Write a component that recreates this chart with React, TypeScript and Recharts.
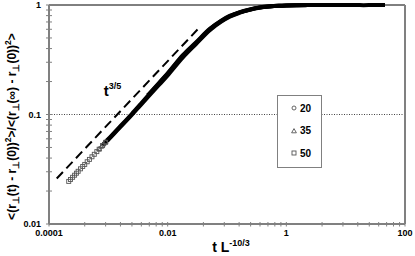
import {
  ComposedChart,
  Legend,
  Line,
  ReferenceDot,
  ReferenceLine,
  Scatter,
  XAxis,
  YAxis,
} from "recharts";

// axis ticks (log-log). minor x ticks sit at k^2 within each 100x decade, as in the original sheet
const xMajor = [1e-4, 1e-2, 1, 100];
const xMajorLabels = ["0.0001", "0.01", "1", "100"];
const xMinor = [
  4e-4, 9e-4, 1.6e-3, 2.5e-3, 3.6e-3, 4.9e-3, 6.4e-3, 8.1e-3,
  0.04, 0.09, 0.16, 0.25, 0.36, 0.49, 0.64, 0.81,
  4, 9, 16, 25, 36, 49, 64, 81,
];
const yMajor = [0.01, 0.1, 1];
const yMajorLabels = ["0.01", "0.1", "1"];
const yMinor = [
  0.02, 0.03, 0.04, 0.05, 0.06, 0.07, 0.08, 0.09,
  0.2, 0.3, 0.4, 0.5, 0.6, 0.7, 0.8, 0.9,
];

const seriesNames = ["20", "35", "50"];

// L = 20
const l20X = [4.6e-3, 5e-3, 7e-3, 0.01, 0.0182, 0.03, 0.0513, 0.08, 0.111, 0.16, 0.242, 0.35, 0.525, 0.75, 1, 1.5, 2.2, 3, 5, 7, 10, 15, 20, 30, 46];
const l20Y = [0.15, 0.157, 0.192, 0.238, 0.35, 0.455, 0.605, 0.72, 0.795, 0.857, 0.91, 0.948, 0.972, 0.985, 0.991, 0.996, 0.998, 1.0, 0.999, 1.0, 0.998, 1.0, 0.997, 1.0, 0.999];

// L = 35
const l35X = [7e-4, 7.6e-4, 8.3e-4, 9e-4, 1e-3, 1.5e-3, 2.46e-3, 3.5e-3, 5e-3, 7e-3, 0.01, 0.0182, 0.03, 0.0513, 0.08, 0.111, 0.16, 0.242, 0.35, 0.525, 0.75, 1, 1.5, 2.2, 3, 5, 7];
const l35Y = [0.0487, 0.051, 0.0538, 0.0565, 0.0598, 0.0755, 0.1005, 0.1245, 0.155, 0.19, 0.235, 0.345, 0.448, 0.6, 0.714, 0.79, 0.853, 0.908, 0.946, 0.971, 0.984, 0.99, 0.995, 0.998, 0.999, 1.0, 0.998];

// L = 50
const l50X = [2.15e-4, 2.3e-4, 2.5e-4, 2.7e-4, 2.9e-4, 3.1e-4, 3.4e-4, 3.7e-4, 4e-4, 4.4e-4, 4.8e-4, 5.3e-4, 5.8e-4, 6.4e-4, 7e-4, 8e-4, 9e-4, 1e-3, 1.5e-3, 2.46e-3, 3.5e-3, 5e-3, 7e-3, 0.01, 0.0182, 0.03, 0.0513, 0.08, 0.111, 0.16, 0.242, 0.35, 0.525, 0.75, 1, 1.5, 2.2];
const l50Y = [0.0245, 0.0255, 0.0267, 0.0279, 0.0291, 0.0303, 0.0319, 0.0335, 0.035, 0.037, 0.0389, 0.0411, 0.0433, 0.0458, 0.0482, 0.0521, 0.0557, 0.0588, 0.0742, 0.0985, 0.122, 0.151, 0.184, 0.228, 0.334, 0.44, 0.588, 0.704, 0.782, 0.846, 0.903, 0.943, 0.968, 0.982, 0.989, 0.994, 0.997];

// t^(3/5) guide
const guideX = [1.35e-4, 0.034];
const guideY = [0.026, 0.62];
const guideLabelAt = { x: 8.4e-4, y: 0.148 };

const font = "'Liberation Sans', Arial, sans-serif";
const axisGray = "#808080";

type Pt = { x: number; y: number };
const zip = (xs: number[], ys: number[]): Pt[] => xs.map((x, i) => ({ x, y: ys[i] }));

const l20 = zip(l20X, l20Y);
const l35 = zip(l35X, l35Y);
const l50 = zip(l50X, l50Y);
const guide = zip(guideX, guideY);
// early points are sparse enough to show as single markers, later ones merge into a solid band
const sparse = (d: Pt[]) => d.filter((p) => p.x < 1e-3);
const dense = (d: Pt[]) => d.filter((p) => p.x >= 8e-4);

const sameLog = (a: number, b: number) => Math.abs(Math.log10(a) - Math.log10(b)) < 1e-6;

function XTick(props: any) {
  const { x, y, payload } = props;
  const i = xMajor.findIndex((v) => sameLog(v, payload.value));
  return (
    <g>
      <line x1={x} x2={x} y1={y - 2} y2={y + 2.5} stroke={axisGray} strokeWidth={1} />
      {i >= 0 && (
        <text x={x} y={y + 12} textAnchor="middle" fontSize={9} fontWeight="bold" fontFamily={font} fill="#000">
          {xMajorLabels[i]}
        </text>
      )}
    </g>
  );
}

function YTick(props: any) {
  const { x, y, payload } = props;
  const i = yMajor.findIndex((v) => sameLog(v, payload.value));
  return (
    <g>
      <line x1={x - 3} x2={x + 3} y1={y} y2={y} stroke={axisGray} strokeWidth={1} />
      {i >= 0 && (
        <text x={x - 8} y={y + 3.3} textAnchor="end" fontSize={9} fontWeight="bold" fontFamily={font} fill="#000">
          {yMajorLabels[i]}
        </text>
      )}
    </g>
  );
}

type Part = [string, "n" | "sub" | "sup"];

function rich(parts: Part[], base: number, small: number, sub = 2.5, sup = -4.5) {
  let shift = 0;
  return parts.map(([t, k], i) => {
    const target = k === "sub" ? sub : k === "sup" ? sup : 0;
    const dy = target - shift;
    shift = target;
    return (
      <tspan key={i} dy={dy} fontSize={k === "n" ? base : small}>
        {t}
      </tspan>
    );
  });
}

const yTitle: Part[] = [
  ["<(r", "n"], ["⊥", "sub"], ["(t) - r", "n"], ["⊥", "sub"], ["(0))", "n"], ["2", "sup"],
  [">/<(r", "n"], ["⊥", "sub"], ["(∞) - r", "n"], ["⊥", "sub"], ["(0))", "n"], ["2", "sup"], [">", "n"],
];
const xTitle: Part[] = [["t L", "n"], ["-10/3", "sup"]];
const guideTitle: Part[] = [["t", "n"], ["3/5", "sup"]];

function Marker({ cx, cy, kind }: { cx: number; cy: number; kind: string }) {
  const s = { fill: "none", stroke: "#555", strokeWidth: 0.9 };
  if (kind === "20") return <circle cx={cx} cy={cy} r={2} {...s} />;
  if (kind === "35") return <path d={`M${cx},${cy - 2.4}L${cx + 2.4},${cy + 1.8}L${cx - 2.4},${cy + 1.8}Z`} {...s} />;
  return <rect x={cx - 2} y={cy - 2} width={4} height={4} {...s} />;
}

function LegendBox() {
  return (
    <div
      style={{
        width: 45,
        height: 73,
        boxSizing: "border-box",
        border: `1.5px solid ${axisGray}`,
        background: "#fff",
        position: "relative",
        fontFamily: font,
      }}
    >
      {seriesNames.map((n, i) => (
        <div
          key={n}
          style={{
            position: "absolute",
            left: 12,
            top: 1 + i * 22.5,
            height: 22.5,
            display: "flex",
            alignItems: "center",
            fontSize: 10,
            fontWeight: "bold",
            color: "#000",
          }}
        >
          <svg width={8} height={8} style={{ marginRight: 2 }}>
            <Marker cx={4} cy={4} kind={n} />
          </svg>
          {n}
        </div>
      ))}
    </div>
  );
}

const seriesData = [l20, l35, l50];

export default function App() {
  return (
    <div style={{ position: "absolute", left: 0, top: 0, width: 415, height: 256, background: "#fff" }}>
      <ComposedChart width={415} height={256} margin={{ top: 5, right: 10, bottom: 0, left: 0 }}>
        <XAxis
          type="number"
          dataKey="x"
          scale="log"
          domain={[1e-4, 100]}
          ticks={[...xMajor, ...xMinor]}
          interval={0}
          tick={<XTick />}
          tickLine={false}
          tickSize={0}
          tickMargin={0}
          axisLine={{ stroke: axisGray, strokeWidth: 2 }}
          height={32}
          label={{
            content: (p: any) => (
              <text
                x={p.viewBox.x + p.viewBox.width / 2 + 4}
                y={p.viewBox.y + 28}
                textAnchor="middle"
                fontWeight="bold"
                fontFamily={font}
                fill="#000"
              >
                {rich(xTitle, 14, 9, 0, -6)}
              </text>
            ),
          }}
        />
        <YAxis
          type="number"
          dataKey="y"
          scale="log"
          domain={[0.01, 1]}
          ticks={[...yMajor, ...yMinor]}
          interval={0}
          tick={<YTick />}
          tickLine={false}
          tickSize={0}
          tickMargin={0}
          axisLine={{ stroke: axisGray, strokeWidth: 2 }}
          width={49}
          label={{
            content: (p: any) => {
              const cx = 16;
              const cy = p.viewBox.y + p.viewBox.height / 2 + 12;
              return (
                <text
                  transform={`translate(${cx},${cy}) rotate(-90)`}
                  textAnchor="middle"
                  fontWeight="bold"
                  fontFamily={font}
                  fill="#000"
                >
                  {rich(yTitle, 12, 8.5, 2.5, -5)}
                </text>
              );
            },
          }}
        />
        <ReferenceLine y={0.1} stroke="#444" strokeWidth={1} strokeDasharray="1 1.5" />
        <ReferenceLine y={1} stroke="#000" strokeWidth={1} />
        <ReferenceLine x={100} stroke={axisGray} strokeWidth={2} />
        {seriesData.map((d, i) => (
          <Scatter
            key={`pts-${seriesNames[i]}`}
            name={seriesNames[i]}
            data={sparse(d)}
            shape={(p: any) => <Marker cx={p.cx} cy={p.cy} kind={seriesNames[i]} />}
            isAnimationActive={false}
          />
        ))}
        <Line
          data={guide}
          dataKey="y"
          stroke="#000"
          strokeWidth={2}
          strokeDasharray="9 5"
          dot={false}
          legendType="none"
          isAnimationActive={false}
        />
        {seriesData.map((d, i) => (
          <Line
            key={`band-${seriesNames[i]}`}
            data={dense(d)}
            dataKey="y"
            type="monotone"
            stroke="#000"
            strokeWidth={4}
            dot={false}
            legendType="none"
            isAnimationActive={false}
          />
        ))}
        <ReferenceDot
          x={guideLabelAt.x}
          y={guideLabelAt.y}
          r={0}
          stroke="none"
          label={{
            content: (p: any) => (
              <text x={p.viewBox.x} y={p.viewBox.y} fontWeight="bold" fontFamily={font} fill="#000">
                {rich(guideTitle, 15, 9, 0, -7)}
              </text>
            ),
          }}
        />
        <Legend
          layout="vertical"
          align="center"
          verticalAlign="middle"
          wrapperStyle={{ left: 277, top: 95, width: 45, height: 73 }}
          content={() => <LegendBox />}
        />
      </ComposedChart>
    </div>
  );
}
